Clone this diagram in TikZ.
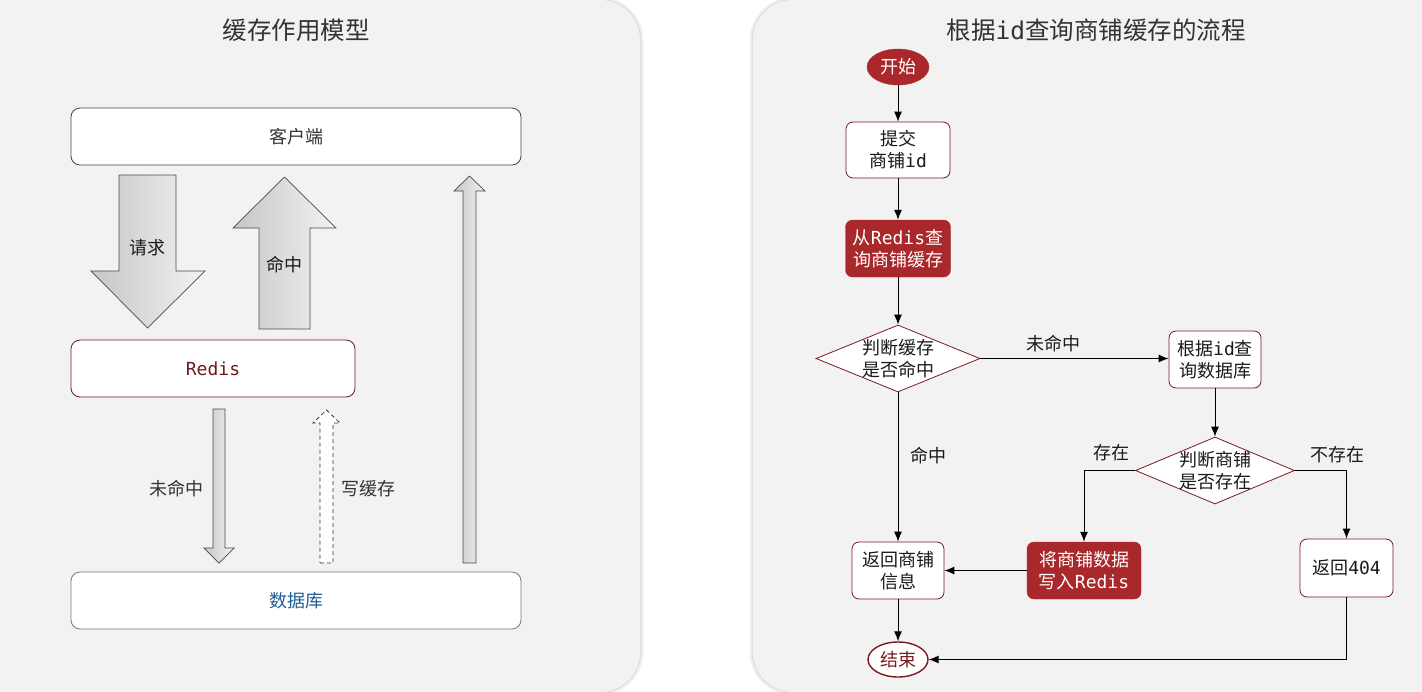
\documentclass[tikz,border=0pt]{standalone}
\usepackage{fontspec}
\setmainfont{Noto Sans CJK SC}
\newfontfamily\mono{DejaVu Sans Mono}
\usetikzlibrary{shapes.geometric,arrows.meta}
\definecolor{panel}{HTML}{F2F2F2}
\definecolor{cred}{HTML}{A8282B}
\definecolor{redline}{HTML}{7A1A1E}
\definecolor{txt}{HTML}{1A1A1A}
\definecolor{ttl}{HTML}{333333}
\definecolor{dbline}{HTML}{6E7896}
\definecolor{dbtext}{HTML}{1F5E96}
\definecolor{redistext}{HTML}{6E1A1E}
\definecolor{arrline}{HTML}{4A4A4A}
\definecolor{boxline}{HTML}{444444}
\begin{document}
\begin{tikzpicture}[x=1pt,y=-1pt,
  every node/.style={text=txt, font=\fontsize{18}{22}\selectfont, align=center, inner sep=0pt},
  ttlnode/.style={text=ttl, font=\fontsize{24.5}{28}\selectfont},
  lbox/.style={draw, rounded corners=9pt, fill=white, line width=0.8pt},
  blk/.style={draw=arrline, line width=0.7pt, left color=gray!45!white, right color=gray!10!white},
  dashblk/.style={draw=black!80, line width=0.8pt, fill=white, dash pattern=on 4pt off 3pt},
  proc/.style={draw=redline, fill=white, rounded corners=7pt, line width=0.8pt},
  procred/.style={draw=cred, fill=cred, rounded corners=7pt, text=white},
  term/.style={ellipse, draw=cred, fill=cred, text=white},
  termend/.style={ellipse, draw=redline, fill=white, line width=1.4pt, text=redline},
  decision/.style={diamond, draw=redline, fill=white, line width=0.8pt},
  flow/.style={draw=black, line width=1pt, -{Latex[length=10pt,width=8pt]}},
  lbl/.style={text=txt}
]
\useasboundingbox (0,0) rectangle (1422,691);
\fill[white] (0,0) rectangle (1422,691);

% panels with soft shadow
\fill[black, opacity=0.05, rounded corners=43pt] (-60,-3) rectangle (643.5,695);
\fill[black, opacity=0.08, rounded corners=41pt] (-60,-1) rectangle (641.5,693);
\fill[panel, rounded corners=40pt] (-60,0) rectangle (640,692);
\fill[black, opacity=0.05, rounded corners=43pt] (749.5,-3) rectangle (1490,695);
\fill[black, opacity=0.08, rounded corners=41pt] (751.5,-1) rectangle (1490,693);
\fill[panel, rounded corners=40pt] (753,0) rectangle (1490,692);

% ---------- left panel ----------
\node[ttlnode] (ltitle) at (296,30) {缓存作用模型};

\node[lbox, draw=boxline, minimum width=450pt, minimum height=57pt, text=ttl] (client) at (296,136.5) {客户端};
\node[lbox, draw=redistext, minimum width=284pt, minimum height=57pt, text=redistext] (redis) at (213,368.5) {\mono Redis};
\node[lbox, draw=dbline, minimum width=450pt, minimum height=57pt, text=dbtext] (db) at (296,600.5) {数据库};

% block arrows
\path[blk] (119,175) -- (176,175) -- (176,271) -- (205,271) -- (147.5,328) -- (91,271) -- (119,271) -- cycle;
\path[blk] (259,329) -- (310,329) -- (310,228) -- (336,228) -- (284.5,177) -- (233,228) -- (259,228) -- cycle;
\path[blk] (213,409) -- (225,409) -- (225,548) -- (234,548) -- (219,563) -- (204,548) -- (213,548) -- cycle;
\path[dashblk] (320,563) -- (333,563) -- (333,423) -- (340,423) -- (326.5,410) -- (313,423) -- (320,423) -- cycle;
\path[blk] (463,563) -- (476,563) -- (476,191) -- (485,191) -- (469.5,176) -- (454,191) -- (463,191) -- cycle;

\node[lbl] (lreq) at (147.5,248) {请求};
\node[lbl] (lhit) at (284.5,265) {命中};
\node[lbl, text=ttl] (lmiss) at (176,489) {未命中};
\node[lbl, text=ttl] (lwrite) at (368,489) {写缓存};

% ---------- right panel ----------
\node[ttlnode] (rtitle) at (1096,30) {根据{\mono id}查询商铺缓存的流程};

\node[term, minimum width=62pt, minimum height=36pt] (start) at (898,67) {开始};
\node[proc, minimum width=104pt, minimum height=56pt] (submit) at (898,150) {提交\\商铺{\mono id}};
\node[procred, minimum width=105pt, minimum height=57pt] (query) at (898,248.5) {从{\mono Redis}查\\询商铺缓存};
\node[decision, minimum width=164pt, minimum height=67pt] (d1) at (898,358.5) {};
\node (d1t) at (d1) {判断缓存\\是否命中};
\node[proc, minimum width=92pt, minimum height=57pt] (dbq) at (1215,359.5) {根据{\mono id}查\\询数据库};
\node[decision, minimum width=159pt, minimum height=67pt] (d2) at (1215,470.5) {};
\node (d2t) at (d2) {判断商铺\\是否存在};
\node[procred, minimum width=114pt, minimum height=57pt] (write) at (1084,570.5) {将商铺数据\\写入{\mono Redis}};
\node[proc, minimum width=92pt, minimum height=57pt] (ret) at (898,570.5) {返回商铺\\信息};
\node[proc, minimum width=93pt, minimum height=58pt] (r404) at (1346.5,568) {返回{\mono 404}};
\node[termend, minimum width=60pt, minimum height=35pt] (end) at (898,659.5) {结束};

\draw[flow] (start) -- (submit);
\draw[flow] (submit) -- (query);
\draw[flow] (query) -- (d1);
\draw[flow] (d1.east) -- node[pos=0.39, above=6.5pt] (lmiss2) {未命中} (d1.east -| dbq.west);
\draw[flow] (d1.south) -- node[pos=0.42, right=12pt] (lhit2) {命中} (ret.north);
\draw[flow] (dbq) -- (d2);
\draw[flow] (d2.west) -| node[pos=0.23, above=9.5pt] (lexist) {存在} (write.north);
\draw[flow] (d2.east) -| node[pos=0.41, above=7.5pt] (lnot) {不存在} (r404.north);
\draw[flow] (write.west) -- (ret.east);
\draw[flow] (ret) -- (end);
\draw[flow] (r404.south) |- (end.east);
\end{tikzpicture}
\end{document}
